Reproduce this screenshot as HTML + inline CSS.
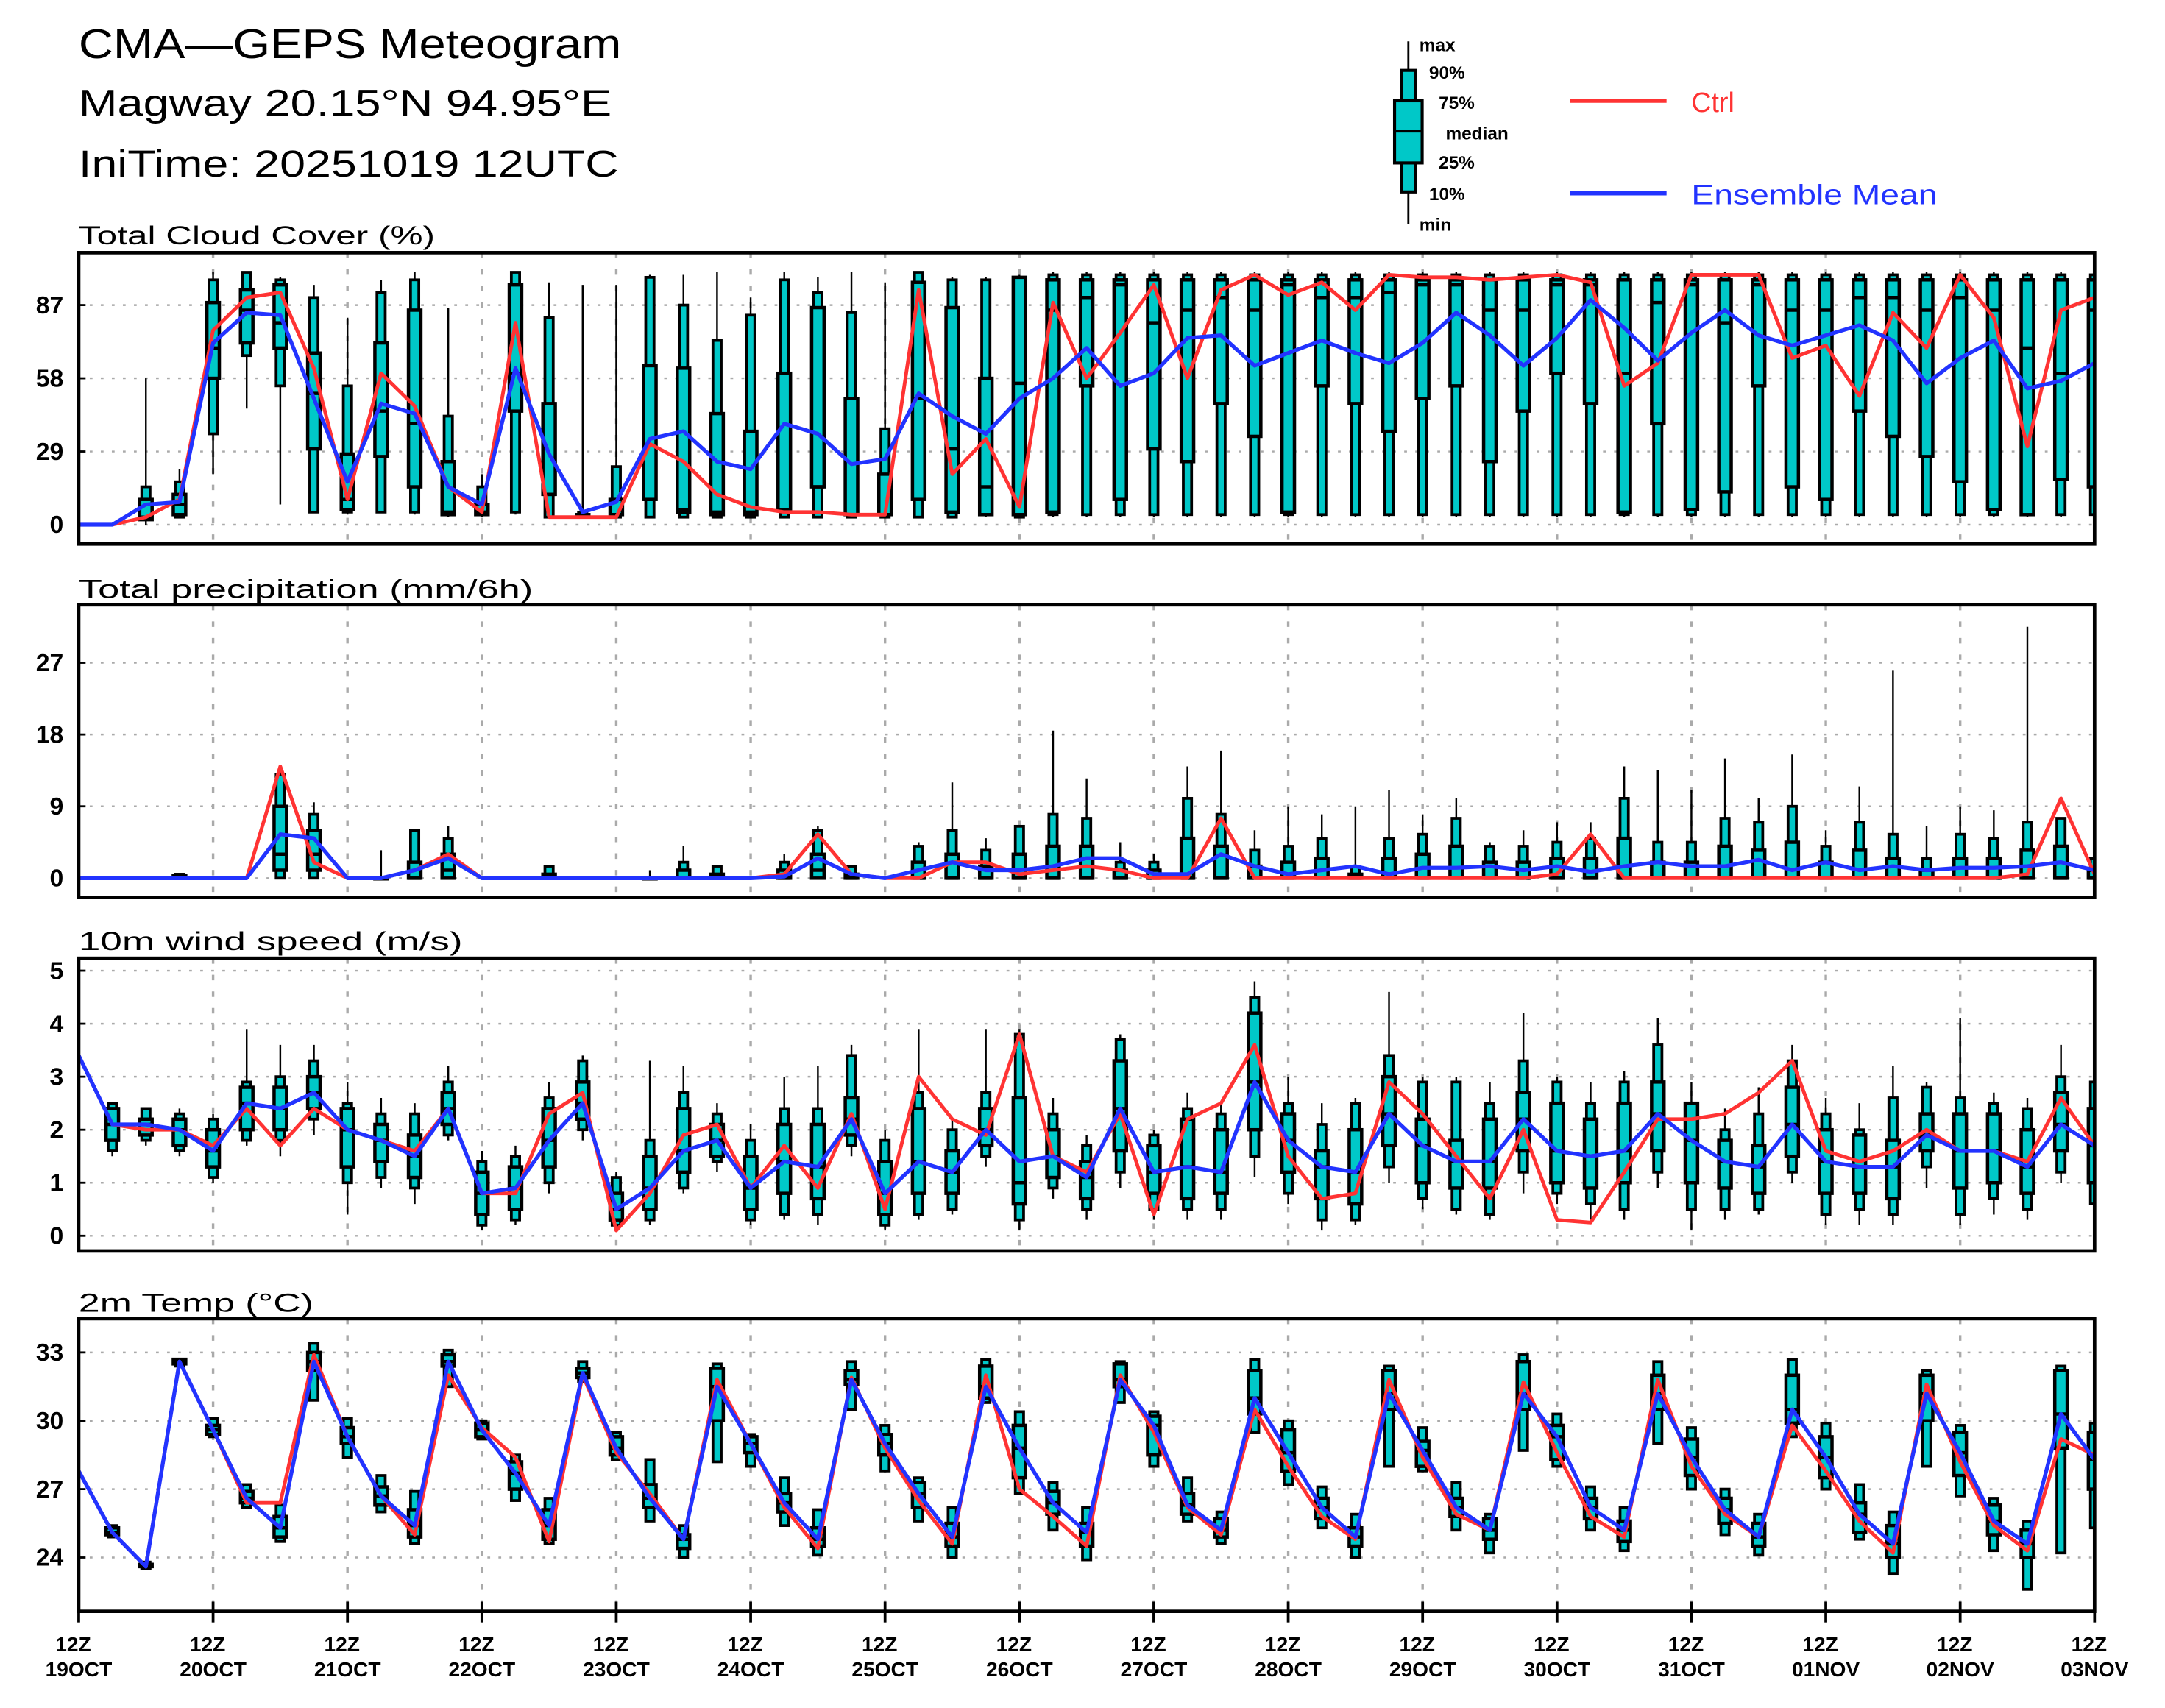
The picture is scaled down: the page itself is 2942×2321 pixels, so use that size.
<!DOCTYPE html>
<html><head><meta charset="utf-8"><title>CMA-GEPS Meteogram</title>
<style>
html,body{margin:0;padding:0;background:#fff;}
svg{display:block;}
text{font-family:"Liberation Sans",sans-serif;fill:#000;}
.tk{font-weight:bold;font-size:18px;text-anchor:end;}
.xl{font-weight:bold;font-size:15px;text-anchor:middle;}
.pt{font-size:19px;}
.lg{font-weight:bold;font-size:13px;}
</style></head>
<body>
<svg id="chart" width="2942" height="2321" viewBox="0 0 1568 1237" preserveAspectRatio="none" xmlns="http://www.w3.org/2000/svg">
<rect x="0" y="0" width="1568" height="1237" fill="#fff"/>
<text x="57" y="42" font-size="30" textLength="393" lengthAdjust="spacingAndGlyphs">CMA—GEPS Meteogram</text>
<text x="57" y="84" font-size="27" textLength="386" lengthAdjust="spacingAndGlyphs">Magway 20.15°N 94.95°E</text>
<text x="57" y="128" font-size="27" textLength="391" lengthAdjust="spacingAndGlyphs">IniTime: 20251019 12UTC</text>

<g>
  <line x1="1020" y1="30" x2="1020" y2="162" stroke="#000" stroke-width="1.5"/>
  <rect x="1015" y="51" width="10" height="88" fill="#00c8c8" stroke="#000" stroke-width="2.2"/>
  <rect x="1010" y="73" width="20" height="45" fill="#00c8c8" stroke="#000" stroke-width="2.2"/>
  <line x1="1010" y1="95" x2="1030" y2="95" stroke="#000" stroke-width="2"/>
  <text class="lg" x="1028" y="37">max</text>
  <text class="lg" x="1035" y="57">90%</text>
  <text class="lg" x="1042" y="79">75%</text>
  <text class="lg" x="1047" y="101">median</text>
  <text class="lg" x="1042" y="122">25%</text>
  <text class="lg" x="1035" y="145">10%</text>
  <text class="lg" x="1028" y="167">min</text>
  <line x1="1137" y1="73" x2="1207" y2="73" stroke="#ff3333" stroke-width="3"/>
  <text x="1225" y="81" font-size="20" style="fill:#ff3333">Ctrl</text>
  <line x1="1137" y1="140" x2="1207" y2="140" stroke="#2233ff" stroke-width="3"/>
  <text x="1225" y="148" font-size="20" textLength="178" lengthAdjust="spacingAndGlyphs" style="fill:#2233ff">Ensemble Mean</text>
</g>

<text class="pt" x="57" y="177" textLength="258" lengthAdjust="spacingAndGlyphs">Total Cloud Cover (%)</text>
<text class="pt" x="57" y="433" textLength="329" lengthAdjust="spacingAndGlyphs">Total precipitation (mm/6h)</text>
<text class="pt" x="57" y="688" textLength="278" lengthAdjust="spacingAndGlyphs">10m wind speed (m/s)</text>
<text class="pt" x="57" y="950" textLength="170" lengthAdjust="spacingAndGlyphs">2m Temp (°C)</text>
<g id="dyn"></g>
</svg>
<script>
// ---------- Cloud cover (%) ----------
const cloudMin=[0,0,0,3,20,46,8,5,4,5,4,3,3,4,3,3,3,3,3,3,3,3,3,3,3,3,3,3,3,3,3,3,3,3,3,3,3,3,3,3,3,3,3,3,3,3,3,3,3,3,3,3,3,3,3,3,3,3,3,3,3];
const cloudP10=[0,0,2,3,36,67,55,5,5,5,5,4,4,5,3,3,3,3,3,3,3,3,3,3,3,3,3,4,3,4,4,4,4,4,4,4,4,4,4,4,4,4,4,4,4,4,4,4,4,4,4,4,4,4,4,4,4,4,4,4,4];
const cloudP25=[0,0,2,4,58,72,70,30,6,27,15,4,4,45,12,3,4,10,5,4,4,6,15,4,4,10,5,4,4,5,55,10,30,25,48,35,5,55,48,37,50,55,25,45,60,48,5,40,6,13,55,15,10,45,35,27,17,6,4,18,15];
const cloudMed=[0,0,3,8,70,85,80,52,10,45,40,5,5,60,12,3,4,10,6,5,5,6,15,4,4,50,30,15,56,85,90,95,80,85,90,85,95,90,90,92,95,95,85,85,95,95,60,88,95,80,95,85,85,90,90,85,90,85,70,60,85];
const cloudP75=[0,0,10,12,88,93,95,68,28,72,85,25,8,95,48,4,10,63,62,44,37,60,86,50,20,96,86,58,98,97,97,97,97,97,97,97,97,97,97,97,97,97,97,97,97,97,97,97,97,97,97,97,97,97,97,97,97,97,97,97,97];
const cloudP90=[0,0,15,17,97,100,97,90,55,92,97,43,15,100,82,5,23,98,87,73,83,97,92,84,38,100,97,97,98,99,99,99,99,99,99,99,99,99,99,99,99,99,99,99,99,99,99,99,99,99,99,99,99,99,99,99,99,99,99,99,99];
const cloudMax=[0,0,58,22,100,100,98,95,82,97,100,86,20,100,96,95,95,99,99,100,90,100,98,100,96,100,98,98,99,100,100,100,100,100,100,100,100,100,100,100,100,100,100,100,100,100,100,100,100,100,100,100,100,100,100,100,100,100,100,100,100];
const cloudCtrl=[0,0,3,10,77,90,92,62,10,60,47,15,5,80,3,3,3,32,25,12,7,5,5,4,4,93,20,34,7,88,58,76,95,58,93,99,91,96,85,99,98,98,97,98,99,96,55,64,99,99,99,66,71,51,84,70,99,82,31,85,90];
const cloudMean=[0,0,8,9,72,84,83,50,17,48,44,15,8,62,28,5,9,34,37,25,22,40,36,24,26,52,43,36,50,58,70,55,60,74,75,63,68,73,68,64,72,84,75,63,74,89,78,65,76,85,75,71,75,79,73,56,66,73,54,57,64];
const cloudTicks=[0,29,58,87];

// ---------- Precipitation (mm/6h) ----------
const precMin=[0,0,0,0,0,0,0,0,0,0,0,0,0,0,0,0,0,0,0,0,0,0,0,0,0,0,0,0,0,0,0,0,0,0,0,0,0,0,0,0,0,0,0,0,0,0,0,0,0,0,0,0,0,0,0,0,0,0,0,0,0];
const precP10=[0,0,0,0,0,0,0,0,0,0,0,0,0,0,0,0,0,0,0,0,0,0,0,0,0,0,0,0,0,0,0,0,0,0,0,0,0,0,0,0,0,0,0,0,0,0,0,0,0,0,0,0,0,0,0,0,0,0,0,0,0];
const precP25=[0,0,0,0,0,0,1,1,0,0,0,0,0,0,0,0,0,0,0,0,0,0,0,0,0,0,0,0,0,0,0,0,0,0,0,0,0,0,0,0,0,0,0,0,0,0,0,0,0,0,0,0,0,0,0,0,0,0,0,0,0];
const precMed=[0,0,0,0,0,0,3,3,0,0,0,1,0,0,0,0,0,0,0,0,0,0,1,0,0,0,0,0,0,0,0,0,0,0,0,0,0,0,0,0,0,0,0,0,0,0,0,0,0,0,0,0,0,0,0,0,0,0,0,0,0];
const precP75=[0,0,0,0.3,0,0,9,6,0,0,2,3,0,0,0.5,0,0,0,1,0.5,0,1,3,0.5,0,2,3,1.5,3,4,4,1,1,5,4,1.5,2,2.5,0.5,2.5,3,4,2,2,2.5,2.5,5,2,2,4,3.5,4.5,2,3.5,2.5,1,2.5,2.5,3.5,4,1];
const precP90=[0,0,0,0.5,0,0,13,8,0,0,6,5,0,0,1.5,0,0,0,2,1.5,0,2,6,1.5,0,4,6,3.5,6.5,8,7.5,2,2,10,8,3.5,4,5,1.5,5,5.5,7.5,4,4,4.5,5,10,4.5,4.5,7.5,7,9,4,7,5.5,2.5,5.5,5,7,7.5,2.5];
const precMax=[0,0,0,0.5,0,0,14,9.5,0,3.5,6,6.5,0,0,1.5,0,0,1,4,1.5,0,3,6.5,1.5,0,4.5,12,5,6.5,18.5,12.5,4.5,3,14,16,6,9,8,9,11,8,10,4.5,6,7,7,14,13.5,11,15,10,15.5,6,11.5,26,6.5,9,8.5,31.5,7.5,3];
const precCtrl=[0,0,0,0,0,0,14,2,0,0,1,3,0,0,0,0,0,0,0,0,0,0.5,5.5,0.5,0,0,2,2,0.5,1,1.5,1,0,0,7.5,0,0,0,0,0,0,0,0,0,0.5,5.5,0,0,0,0,0,0,0,0,0,0,0,0,0.5,10,0.5];
const precMean=[0,0,0,0,0,0,5.5,5,0,0,1,2.5,0,0,0,0,0,0,0,0,0,0.2,2.5,0.5,0,1,2,1,1,1.5,2.5,2.5,0.5,0.5,3,1.5,0.5,1,1.5,0.5,1.3,1.3,1.5,1,1.5,0.8,1.5,2,1.5,1.5,2.3,1,2,1,1.5,1,1.3,1.3,1.5,2,1];
const precTicks=[0,9,18,27];

// ---------- 10m wind speed (m/s) ----------
const windMin=[3.4,1.5,1.7,1.5,1.0,1.7,1.5,1.9,0.4,0.9,0.6,1.8,0.1,0.2,0.8,1.8,0.1,0.2,0.8,1.2,0.2,0.3,0.2,1.5,0.1,0.3,0.4,1.3,0.1,0.7,0.3,0.9,0.3,0.3,0.3,1.1,0.6,0.1,0.2,1.0,0.5,0.4,0.3,0.8,0.6,0.3,0.3,0.9,0.1,0.3,0.4,1.0,0.2,0.2,0.2,0.9,0.2,0.4,0.3,1.0,0.5];
const windP10=[3.4,1.6,1.8,1.6,1.1,1.8,1.8,2.2,1.0,1.1,0.9,1.9,0.2,0.3,1.0,2.0,0.2,0.3,0.9,1.4,0.3,0.4,0.4,1.7,0.2,0.4,0.5,1.5,0.3,0.9,0.5,1.2,0.5,0.5,0.5,1.5,0.8,0.3,0.3,1.3,0.7,0.5,0.4,1.2,0.8,0.6,0.5,1.2,0.5,0.5,0.5,1.2,0.4,0.5,0.4,1.3,0.4,0.7,0.5,1.2,0.6];
const windP25=[3.4,1.8,1.9,1.7,1.3,2.0,2.0,2.4,1.3,1.4,1.1,2.1,0.4,0.5,1.3,2.2,0.3,0.5,1.2,1.5,0.5,0.8,0.7,1.9,0.4,0.8,0.8,1.7,0.6,1.1,0.7,1.6,0.8,0.7,0.8,2.0,1.2,0.7,0.6,1.7,1.0,0.9,0.9,1.6,1.0,0.9,1.0,1.6,1.0,0.9,0.8,1.5,0.8,0.8,0.7,1.6,0.9,1.0,0.8,1.6,1.0];
const windMed=[3.4,2.1,2.1,2.0,1.6,2.5,2.4,2.7,2.0,1.8,1.5,2.4,0.8,0.9,1.8,2.5,0.5,0.9,1.6,1.8,0.9,1.4,1.3,2.2,0.8,1.4,1.2,2.0,1.0,1.5,1.1,2.4,1.2,1.3,1.2,2.9,1.8,1.3,1.2,2.3,1.7,1.4,1.4,2.2,1.6,1.5,1.6,2.3,1.8,1.4,1.3,2.1,1.4,1.3,1.3,1.9,1.6,1.6,1.3,2.1,1.7];
const windP75=[3.4,2.4,2.2,2.2,2.0,2.8,2.8,3.0,2.4,2.1,1.9,2.7,1.2,1.3,2.4,2.9,0.8,1.5,2.4,2.1,1.5,2.1,2.1,2.6,1.4,2.4,1.6,2.4,2.6,2.0,1.4,3.3,1.7,2.2,2.0,4.2,2.3,1.6,2.0,3.0,2.2,1.8,2.2,2.7,2.5,2.2,2.5,2.9,2.5,1.8,1.7,2.8,2.0,1.9,1.8,2.3,2.3,2.3,2.0,2.7,2.4];
const windP90=[3.4,2.5,2.4,2.3,2.2,2.9,3.0,3.3,2.5,2.3,2.3,2.9,1.4,1.5,2.6,3.3,1.1,1.8,2.7,2.3,1.8,2.4,2.4,3.4,1.8,2.7,2.0,2.7,3.8,2.3,1.7,3.7,1.9,2.4,2.3,4.5,2.5,2.1,2.5,3.4,2.9,2.9,2.5,3.3,2.9,2.5,2.9,3.6,2.5,2.0,2.3,3.3,2.3,2.0,2.6,2.8,2.6,2.5,2.4,3.0,2.9];
const windMax=[3.4,2.5,2.4,2.4,2.3,3.9,3.6,3.6,2.9,2.6,2.5,3.2,1.6,1.7,2.9,3.4,1.2,3.3,3.2,2.5,2.1,3.0,3.2,3.6,2.0,3.9,2.2,3.9,3.9,2.6,1.9,3.8,2.0,2.7,2.5,4.8,3.0,2.5,2.6,4.6,3.0,3.0,2.9,4.2,3.0,2.9,3.1,4.1,2.9,2.4,2.8,3.6,2.6,2.5,3.2,2.9,4.1,2.7,2.6,3.6,3.0];
const windCtrl=[3.4,2.1,2.0,2.0,1.7,2.4,1.7,2.4,2.0,1.8,1.6,2.4,0.8,0.8,2.3,2.7,0.1,0.8,1.9,2.1,0.9,1.7,0.9,2.3,0.5,3.0,2.2,1.9,3.8,1.5,1.2,2.3,0.4,2.2,2.5,3.6,1.5,0.7,0.8,2.9,2.3,1.5,0.7,2.0,0.3,0.25,1.2,2.2,2.2,2.3,2.7,3.3,1.6,1.4,1.6,2.0,1.6,1.6,1.4,2.6,1.7];
const windMean=[3.4,2.1,2.1,2.0,1.6,2.5,2.4,2.7,2.0,1.8,1.5,2.4,0.8,0.9,1.8,2.5,0.5,0.9,1.6,1.8,0.9,1.4,1.3,2.2,0.8,1.4,1.2,2.0,1.4,1.5,1.1,2.4,1.2,1.3,1.2,2.9,1.8,1.3,1.2,2.3,1.7,1.4,1.4,2.2,1.6,1.5,1.6,2.3,1.8,1.4,1.3,2.1,1.4,1.3,1.3,1.9,1.6,1.6,1.3,2.1,1.7];
const windTicks=[0,1,2,3,4,5];

// ---------- 2m temperature (°C) ----------
const tempMin=[27.8,24.9,23.5,32.4,29.3,26.2,24.7,30.9,28.4,26.0,24.6,31.5,29.2,26.5,24.6,31.7,28.3,25.6,24.0,28.2,28.0,25.4,24.1,30.5,27.8,25.6,24.0,30.8,26.8,25.2,23.9,30.8,28.0,25.6,24.6,29.5,27.2,25.3,24.0,28.0,27.8,25.2,24.2,28.7,28.0,25.2,24.3,29.0,27.0,25.0,24.1,29.3,27.0,24.8,23.3,28.0,26.7,24.3,22.6,24.2,25.3];
const tempP25=[27.8,25.0,23.6,32.5,29.4,26.4,24.9,32.2,29.0,26.3,24.9,32.4,29.3,27.0,24.8,31.9,28.5,26.2,24.4,30.0,28.6,26.0,24.5,31.6,28.5,26.2,24.5,31.0,27.5,25.9,24.5,31.5,28.5,25.9,24.9,30.3,27.8,25.7,24.5,30.5,28.0,25.8,24.8,30.5,28.3,25.7,24.7,30.5,27.6,25.5,24.5,29.9,27.5,25.1,24.0,30.0,27.6,25.0,24.0,28.8,27.0];
const tempMed=[27.8,25.1,23.6,32.6,29.6,26.6,25.3,32.6,29.3,26.7,25.4,32.6,29.6,27.7,25.4,32.1,28.8,26.6,24.8,31.5,29.0,26.4,24.8,31.8,29.0,26.8,24.9,31.5,28.8,26.4,25.1,31.8,29.8,26.3,25.2,31.0,28.6,26.2,24.9,31.2,28.7,26.2,25.2,31.2,29.3,26.2,25.2,31.2,28.4,26.1,24.9,30.5,28.4,25.9,24.6,31.2,28.6,25.6,24.6,30.3,28.3];
const tempP75=[27.8,25.3,23.7,32.7,29.8,26.9,25.8,33.0,29.7,27.1,26.1,32.9,29.9,28.2,26.1,32.3,29.3,27.2,25.0,32.3,29.3,26.8,25.3,32.2,29.4,27.3,25.5,32.4,29.8,26.9,25.5,32.5,30.2,26.8,25.7,32.2,29.6,26.6,25.3,32.2,29.1,26.6,25.7,32.6,29.8,26.6,25.6,32.0,29.2,26.6,25.5,32.0,29.3,26.4,25.4,32.0,29.5,26.3,25.2,32.2,29.5];
const tempMax=[27.8,25.4,23.8,32.7,30.1,27.2,26.3,33.4,30.1,27.6,26.9,33.1,30.0,28.5,26.6,32.6,29.5,28.3,25.4,32.5,29.4,27.5,26.1,32.6,29.8,27.5,26.2,32.7,30.4,27.3,26.2,32.6,30.4,27.5,26.0,32.7,30.0,27.1,25.9,32.4,29.7,27.3,25.9,32.9,30.3,27.1,26.2,32.6,29.7,27.0,25.9,32.7,29.9,27.2,26.0,32.2,29.8,26.6,25.6,32.4,29.9];
const tempCtrl=[27.8,25.1,23.6,32.6,29.6,26.4,26.4,32.9,29.3,26.7,25.0,32.0,29.7,28.4,24.7,32.0,28.6,26.8,24.8,31.8,29.0,26.2,24.4,31.9,28.8,26.5,24.6,32.0,27.0,25.8,24.5,32.0,29.5,26.2,25.0,30.5,28.0,25.8,24.8,31.8,28.4,25.9,25.2,31.7,28.6,25.8,24.9,31.8,28.0,25.9,24.9,29.8,27.8,25.6,24.2,31.6,28.2,25.4,24.3,29.2,28.5];
const tempMean=[27.8,25.1,23.6,32.6,29.6,26.6,25.3,32.6,29.3,26.7,25.4,32.6,29.6,27.7,25.4,32.1,28.8,26.6,24.8,31.5,29.0,26.4,24.8,31.8,29.0,26.8,24.9,31.5,28.8,26.4,25.1,31.8,29.8,26.3,25.2,31.0,28.6,26.2,24.9,31.2,28.7,26.2,25.2,31.2,29.3,26.2,25.2,31.2,28.4,26.1,24.9,30.5,28.4,25.9,24.6,31.2,28.6,25.6,24.6,30.3,28.3];
const tempTicks=[24,27,30,33];

// ---------- x axis ----------
const dayLabels=["19OCT","20OCT","21OCT","22OCT","23OCT","24OCT","25OCT","26OCT","27OCT","28OCT","29OCT","30OCT","31OCT","01NOV","02NOV","03NOV"];
const hourLabel="12Z";

const NS="http://www.w3.org/2000/svg";
const X0=57,X1=1517,NSTEP=60;
function xStep(i){return X0+i*(X1-X0)/NSTEP;}
function xDay(d){return X0+d*(X1-X0)/(dayLabels.length-1);}
const dyn=document.getElementById('dyn');
function mk(tag,attrs,parent){const e=document.createElementNS(NS,tag);for(const k in attrs)e.setAttribute(k,attrs[k]);(parent||dyn).appendChild(e);return e;}

function panel(key,top,bottom,yFn,ticks,s){
  const g=mk('g',{});
  
  
  const cp=mk('clipPath',{id:'clip-'+key},g);
  mk('rect',{x:X0,y:top,width:X1-X0,height:bottom-top},cp);
  ticks.forEach(t=>{
    const y=yFn(t);
    const gl=mk('line',{x1:X0,x2:X1,y1:y,y2:y,stroke:'#aaa','stroke-width':1.3,'stroke-dasharray':'2 6'},g);
    
    
    const tl=mk('line',{x1:X0,x2:X0+5,y1:y,y2:y,stroke:'#000','stroke-width':1.5},g);
    
    
    const tx=mk('text',{x:46,y:y+6,class:'tk'},g);
    tx.textContent=String(t);
    
    
  });
  for(let d=1;d<dayLabels.length-1;d++){
    const x=xDay(d);
    const vl=mk('line',{x1:x,x2:x,y1:top,y2:bottom,stroke:'#aaa','stroke-width':1.8,'stroke-dasharray':'4 8'},g);
    
    
  }
  const bg=mk('g',{'clip-path':'url(#clip-'+key+')'},g);
  
  
  for(let i=1;i<=NSTEP;i++){
    const x=xStep(i);
    if(s.max[i]===s.min[i]&&s.max[i]===0)continue;
    const w=mk('line',{x1:x,x2:x,y1:yFn(s.min[i]),y2:yFn(s.max[i]),stroke:'#000','stroke-width':1.3},bg);
    
    
    const y90=yFn(s.p90[i]),y10=yFn(s.p10[i]);
    const b1=mk('rect',{x:x-3,y:y90,width:6,height:Math.max(0.5,y10-y90),fill:'#00c8c8',stroke:'#000','stroke-width':2},bg);
    
    
    const y75=yFn(s.p75[i]),y25=yFn(s.p25[i]);
    const b2=mk('rect',{x:x-4.5,y:y75,width:9,height:Math.max(0.5,y25-y75),fill:'#00c8c8',stroke:'#000','stroke-width':2.4},bg);
    
    
    const ym=yFn(s.med[i]);
    const md=mk('line',{x1:x-4.5,x2:x+4.5,y1:ym,y2:ym,stroke:'#000','stroke-width':2.4},bg);
    
    
  }
  const ptsC=s.ctrl.map((v,i)=>xStep(i)+','+yFn(v)).join(' ');
  const lc=mk('polyline',{points:ptsC,fill:'none',stroke:'#ff3333','stroke-width':2.6,'stroke-linejoin':'round','clip-path':'url(#clip-'+key+')'},g);
  
  
  const ptsM=s.mean.map((v,i)=>xStep(i)+','+yFn(v)).join(' ');
  const lm=mk('polyline',{points:ptsM,fill:'none',stroke:'#2233ff','stroke-width':2.8,'stroke-linejoin':'round','clip-path':'url(#clip-'+key+')'},g);
  
  
  const fr=mk('rect',{x:X0,y:top,width:X1-X0,height:bottom-top,fill:'none',stroke:'#000','stroke-width':2.5},g);
  
  
}

panel('cloud',183,394,v=>380-v*1.828,cloudTicks,{min:cloudMin,p10:cloudP10,p25:cloudP25,med:cloudMed,p75:cloudP75,p90:cloudP90,max:cloudMax,ctrl:cloudCtrl,mean:cloudMean});
panel('precip',438,650,v=>636-v*5.78,precTicks,{min:precMin,p10:precP10,p25:precP25,med:precMed,p75:precP75,p90:precP90,max:precMax,ctrl:precCtrl,mean:precMean});
panel('wind',694,906,v=>895-v*38.4,windTicks,{min:windMin,p10:windP10,p25:windP25,med:windMed,p75:windP75,p90:windP90,max:windMax,ctrl:windCtrl,mean:windMean});
panel('temp',955,1167,v=>1128-(v-24)*16.5,tempTicks,{min:tempMin,p10:tempMin,p25:tempP25,med:tempMed,p75:tempP75,p90:tempMax,max:tempMax,ctrl:tempCtrl,mean:tempMean});

const ax=mk('g',{});


dayLabels.forEach((lab,d)=>{
  const x=xDay(d);
  const tk=mk('line',{x1:x,x2:x,y1:1160,y2:1175,stroke:'#000','stroke-width':2},ax);
  
  
  const t1=mk('text',{x:x-4,y:1196,class:'xl'},ax);
  t1.textContent=hourLabel;
  
  
  const t2=mk('text',{x:x,y:1214,class:'xl'},ax);
  t2.textContent=lab;
  
  
});
</script>
</body></html>
